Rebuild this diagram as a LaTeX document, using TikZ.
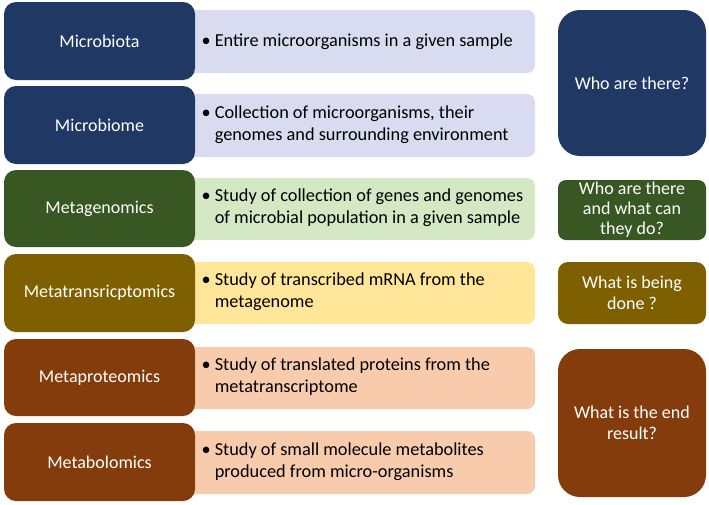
\documentclass[tikz,border=0pt]{standalone}
\usepackage{fontspec}
\setmainfont{Carlito}
\begin{document}
\begin{tikzpicture}[x=1pt,y=-1pt,
 dark/.style={rounded corners=12pt,text=white,align=center,font=\fontsize{18}{21.5}\selectfont},
 light/.style={rounded corners=8pt},
 ltxt/.style={anchor=west,align=left,font=\fontsize{18.3}{22}\selectfont,text=black}]
\definecolor{cb}{HTML}{1F3864}\definecolor{cg}{HTML}{385723}
\definecolor{co}{HTML}{7F6000}\definecolor{cr}{HTML}{843C0C}
\definecolor{lb}{HTML}{D9DCF0}\definecolor{lg}{HTML}{D5E8C4}
\definecolor{ly}{HTML}{FFE699}\definecolor{lr}{HTML}{F8CBAD}
\useasboundingbox (0,0) rectangle (709,504);
% light boxes
\foreach \n/\c/\t/\b in {la/lb/10/73, lb2/lb/94/157, lc/lg/178/240, ld/ly/262/324, le/lr/347/409, lf/lr/431/494}
  \fill[light,fill=\c] (180,\t) rectangle (535,\b);
\foreach \n/\c/\t/\b/\s in {a/cb/2/80/Microbiota, b/cb/86/164/Microbiome, c/cg/170/247/Metagenomics, d/co/254/332/Metatransricptomics, e/cr/339/416/Metaproteomics, f/cr/423/501/Metabolomics}{
  \fill[dark,fill=\c] (4,\t) rectangle (195,\b);
  \node[text=white,font=\fontsize{18}{21.5}\selectfont] (\n) at (99.5,{(\t+\b)/2}) {\s};}
\node[ltxt] (ta) at (198,41.5) {• Entire microorganisms in a given sample};
\node[ltxt] (tb) at (198,124.5) {• Collection of microorganisms, their\\\phantom{• }genomes and surrounding environment};
\node[ltxt] (tc) at (198,208) {• Study of collection of genes and genomes\\\phantom{• }of microbial population in a given sample};
\node[ltxt] (td) at (198,292) {• Study of transcribed mRNA from the\\\phantom{• }metagenome};
\node[ltxt] (te) at (198,377) {• Study of translated proteins from the\\\phantom{• }metatranscriptome};
\node[ltxt] (tf) at (198,461.5) {• Study of small molecule metabolites\\\phantom{• }produced from micro-organisms};
% right boxes
\fill[rounded corners=22pt,fill=cb] (558,10) rectangle (706,156);
\node[dark] (ra) at (632,83) {Who are there?};
\fill[rounded corners=8pt,fill=cg] (558,180) rectangle (706,240);
\node[dark,font=\fontsize{18}{20}\selectfont] (rb) at (632,210) {Who are there\\and what can\\they do?};
\fill[rounded corners=10pt,fill=co] (558,262) rectangle (706,324);
\node[dark] (rc) at (632,293) {What is being\\done ?};
\fill[rounded corners=22pt,fill=cr] (558,349) rectangle (706,497);
\node[dark] (rd) at (632,423) {What is the end\\result?};
\end{tikzpicture}
\end{document}
